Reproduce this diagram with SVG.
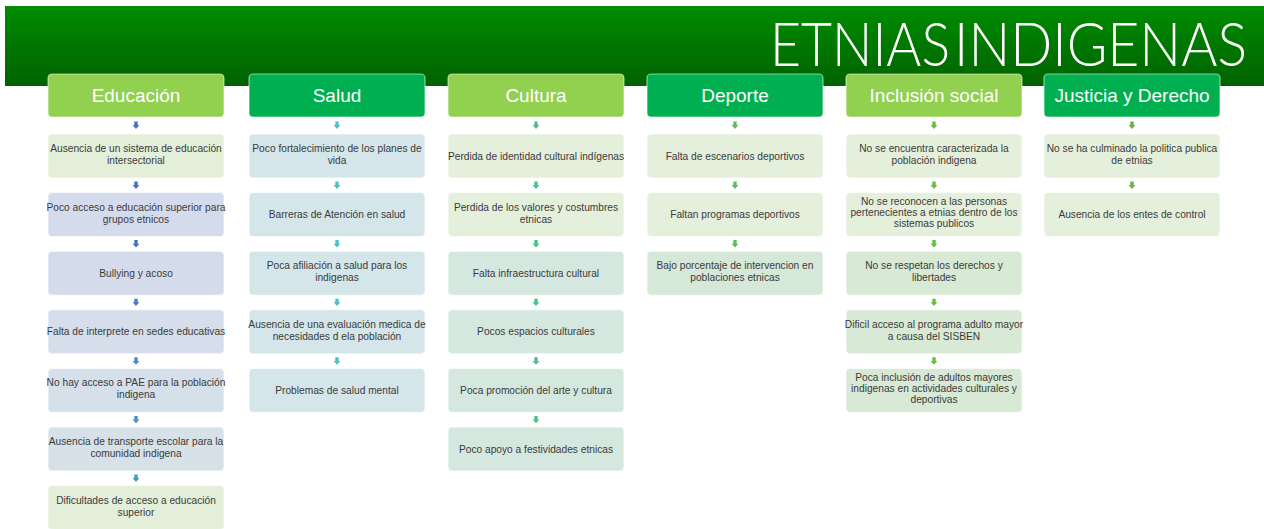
<svg xmlns="http://www.w3.org/2000/svg" xmlns:xlink="http://www.w3.org/1999/xlink" width="1264" height="529" viewBox="0 0 1264 529">
<defs>
<linearGradient id="bannerGrad" x1="0" y1="0" x2="0" y2="1">
<stop offset="0" stop-color="#008c00"/>
<stop offset="1" stop-color="#006200"/>
</linearGradient>
<path id="arr" d="M-1.7 0 h3.4 v3.6 h1.7 l-3.4 3.8 l-3.4 -3.8 h1.7 z"/>
</defs>
<style>
.title{font-family:"Lato","Liberation Sans",sans-serif;font-weight:300;font-size:53px;fill:#ffffff}
.hdr rect{stroke:#ffffff;stroke-opacity:0.55;stroke-width:1.2}
.hdr text{font-family:"Liberation Sans","Open Sans",sans-serif;font-size:19px;fill:#ffffff;text-anchor:middle}
.item rect{stroke:#ffffff;stroke-opacity:0.7;stroke-width:1}
.item text{font-family:"Liberation Sans","Open Sans",sans-serif;font-size:10.2px;fill:#3b3b3b;text-anchor:middle}
.lg{fill:#92d050}
.dg{fill:#00b050}
</style>
<rect width="1264" height="529" fill="#ffffff"/>
<g id="banner">
<rect x="5" y="6" width="1259" height="80" fill="url(#bannerGrad)"/>
<text class="title" transform="translate(770,66) scale(1,1.14)" x="0" y="0" textLength="180" lengthAdjust="spacingAndGlyphs">ETNIAS</text>
<text class="title" transform="translate(954,66) scale(1,1.14)" x="0" y="0" textLength="293" lengthAdjust="spacingAndGlyphs">INDIGENAS</text>
</g>

<g id="connectors">
<g fill="#4472c4">
<use xlink:href="#arr" x="136" y="121.5"/>
<use xlink:href="#arr" x="136" y="181.5"/>
<use xlink:href="#arr" x="136" y="240.1"/>
</g>
<use xlink:href="#arr" x="136" y="298.7" fill="#4680c4"/>
<use xlink:href="#arr" x="136" y="357.3" fill="#488cc2"/>
<use xlink:href="#arr" x="136" y="415.9" fill="#4a95bf"/>
<use xlink:href="#arr" x="136" y="474.5" fill="#4b9dbd"/>
<g fill="#4cc2c8">
<use xlink:href="#arr" x="337" y="121.5"/>
<use xlink:href="#arr" x="337" y="181.5"/>
<use xlink:href="#arr" x="337" y="240.1"/>
<use xlink:href="#arr" x="337" y="298.7"/>
<use xlink:href="#arr" x="337" y="357.3"/>
</g>
<g fill="#4cc08c">
<use xlink:href="#arr" x="536" y="121.5"/>
<use xlink:href="#arr" x="536" y="181.5"/>
<use xlink:href="#arr" x="536" y="240.1"/>
<use xlink:href="#arr" x="536" y="298.7"/>
<use xlink:href="#arr" x="536" y="357.3"/>
<use xlink:href="#arr" x="536" y="415.9"/>
</g>
<g fill="#5cbf58">
<use xlink:href="#arr" x="735" y="121.5"/>
<use xlink:href="#arr" x="735" y="181.5"/>
<use xlink:href="#arr" x="735" y="240.1"/>
</g>
<g fill="#66bf44">
<use xlink:href="#arr" x="934" y="121.5"/>
<use xlink:href="#arr" x="934" y="181.5"/>
<use xlink:href="#arr" x="934" y="240.1"/>
<use xlink:href="#arr" x="934" y="298.7"/>
<use xlink:href="#arr" x="934" y="357.3"/>
</g>
<g fill="#70b048">
<use xlink:href="#arr" x="1132" y="121.5"/>
<use xlink:href="#arr" x="1132" y="181.5"/>
</g>
</g>

<!-- Educación -->
<g id="educacion" class="hdr"><rect class="lg" x="48" y="74" width="176" height="43" rx="4"/><text x="136" y="102">Educación</text></g>
<g id="edu1" class="item"><rect x="48" y="134" width="176" height="44" rx="4" fill="#e3efd9"/><text x="136" y="152">Ausencia de un sistema de educación</text><text x="136" y="164">intersectorial</text></g>
<g id="edu2" class="item"><rect x="48" y="192.6" width="176" height="44" rx="4" fill="#d4dbed"/><text x="136" y="210.6">Poco acceso a educación superior para</text><text x="136" y="222.6">grupos etnicos</text></g>
<g id="edu3" class="item"><rect x="48" y="251.2" width="176" height="44" rx="4" fill="#d4dcec"/><text x="136" y="276.7">Bullying y acoso</text></g>
<g id="edu4" class="item"><rect x="48" y="309.8" width="176" height="44" rx="4" fill="#d5deea"/><text x="136" y="335.3">Falta de interprete en sedes educativas</text></g>
<g id="edu5" class="item"><rect x="48" y="368.4" width="176" height="44" rx="4" fill="#d5e0ea"/><text x="136" y="386.4">No hay acceso a PAE para la población</text><text x="136" y="398.4">indigena</text></g>
<g id="edu6" class="item"><rect x="48" y="427" width="176" height="44" rx="4" fill="#d6e2e8"/><text x="136" y="445">Ausencia de transporte escolar para la</text><text x="136" y="457">comunidad indigena</text></g>
<g id="edu7" class="item"><rect x="48" y="485.6" width="176" height="44" rx="4" fill="#e3efd9"/><text x="136" y="503.6">Dificultades de acceso a educación</text><text x="136" y="515.6">superior</text></g>

<!-- Salud -->
<g id="salud" class="hdr"><rect class="dg" x="249" y="74" width="176" height="43" rx="4"/><text x="337" y="102">Salud</text></g>
<g id="sal1" class="item"><rect x="249" y="134" width="176" height="44" rx="4" fill="#d4e6e9"/><text x="337" y="152">Poco fortalecimiento de los planes de</text><text x="337" y="164">vida</text></g>
<g id="sal2" class="item"><rect x="249" y="192.6" width="176" height="44" rx="4" fill="#d4e6e9"/><text x="337" y="218.1">Barreras de Atención en salud</text></g>
<g id="sal3" class="item"><rect x="249" y="251.2" width="176" height="44" rx="4" fill="#d4e6e9"/><text x="337" y="269.2">Poca afiliación a salud para los</text><text x="337" y="281.2">indigenas</text></g>
<g id="sal4" class="item"><rect x="249" y="309.8" width="176" height="44" rx="4" fill="#d4e6e9"/><text x="337" y="327.8">Ausencia de una evaluación medica de</text><text x="337" y="339.8">necesidades d ela población</text></g>
<g id="sal5" class="item"><rect x="249" y="368.4" width="176" height="44" rx="4" fill="#d4e6e9"/><text x="337" y="393.9">Problemas de salud mental</text></g>

<!-- Cultura -->
<g id="cultura" class="hdr"><rect class="lg" x="448" y="74" width="176" height="43" rx="4"/><text x="536" y="102">Cultura</text></g>
<g id="cul1" class="item"><rect x="448" y="134" width="176" height="44" rx="4" fill="#e4f0dc"/><text x="536" y="159.5">Perdida de identidad cultural indígenas</text></g>
<g id="cul2" class="item"><rect x="448" y="192.6" width="176" height="44" rx="4" fill="#e4f0dc"/><text x="536" y="210.6">Perdida de los valores y costumbres</text><text x="536" y="222.6">etnicas</text></g>
<g id="cul3" class="item"><rect x="448" y="251.2" width="176" height="44" rx="4" fill="#d5e8e0"/><text x="536" y="276.7">Falta infraestructura cultural</text></g>
<g id="cul4" class="item"><rect x="448" y="309.8" width="176" height="44" rx="4" fill="#d5e8e0"/><text x="536" y="335.3">Pocos espacios culturales</text></g>
<g id="cul5" class="item"><rect x="448" y="368.4" width="176" height="44" rx="4" fill="#d5e8e0"/><text x="536" y="393.9">Poca promoción del arte y cultura</text></g>
<g id="cul6" class="item"><rect x="448" y="427" width="176" height="44" rx="4" fill="#d5e8e0"/><text x="536" y="452.5">Poco apoyo a festividades etnicas</text></g>

<!-- Deporte -->
<g id="deporte" class="hdr"><rect class="dg" x="647" y="74" width="176" height="43" rx="4"/><text x="735" y="102">Deporte</text></g>
<g id="dep1" class="item"><rect x="647" y="134" width="176" height="44" rx="4" fill="#e4f0dc"/><text x="735" y="159.5">Falta de escenarios deportivos</text></g>
<g id="dep2" class="item"><rect x="647" y="192.6" width="176" height="44" rx="4" fill="#e4f0dc"/><text x="735" y="218.1">Faltan programas deportivos</text></g>
<g id="dep3" class="item"><rect x="647" y="251.2" width="176" height="44" rx="4" fill="#d6e8d8"/><text x="735" y="269.2">Bajo porcentaje de intervencion en</text><text x="735" y="281.2">poblaciones etnicas</text></g>

<!-- Inclusión social -->
<g id="inclusion" class="hdr"><rect class="lg" x="846" y="74" width="176" height="43" rx="4"/><text x="934" y="102">Inclusión social</text></g>
<g id="inc1" class="item"><rect x="846" y="134" width="176" height="44" rx="4" fill="#e4f0dc"/><text x="934" y="152">No se encuentra caracterizada la</text><text x="934" y="164">población indigena</text></g>
<g id="inc2" class="item"><rect x="846" y="192.6" width="176" height="44" rx="4" fill="#e4f0dc"/><text x="934" y="205.1">No se reconocen a las personas</text><text x="934" y="216.1">pertenecientes a etnias dentro de los</text><text x="934" y="227.1">sistemas publicos</text></g>
<g id="inc3" class="item"><rect x="846" y="251.2" width="176" height="44" rx="4" fill="#d8e9d5"/><text x="934" y="269.2">No se respetan los derechos y</text><text x="934" y="281.2">libertades</text></g>
<g id="inc4" class="item"><rect x="846" y="309.8" width="176" height="44" rx="4" fill="#d8e9d5"/><text x="934" y="327.8">Dificil acceso al programa adulto mayor</text><text x="934" y="339.8">a causa del SISBEN</text></g>
<g id="inc5" class="item"><rect x="846" y="368.4" width="176" height="44" rx="4" fill="#d8e9d5"/><text x="934" y="380.9">Poca inclusión de adultos mayores</text><text x="934" y="391.9">indigenas en actividades culturales y</text><text x="934" y="402.9">deportivas</text></g>

<!-- Justicia y Derecho -->
<g id="justicia" class="hdr"><rect class="dg" x="1044" y="74" width="176" height="43" rx="4"/><text x="1132" y="102">Justicia y Derecho</text></g>
<g id="jus1" class="item"><rect x="1044" y="134" width="176" height="44" rx="4" fill="#e4f0dc"/><text x="1132" y="152">No se ha culminado la politica publica</text><text x="1132" y="164">de etnias</text></g>
<g id="jus2" class="item"><rect x="1044" y="192.6" width="176" height="44" rx="4" fill="#e4f0dc"/><text x="1132" y="218.1">Ausencia de los entes de control</text></g>
</svg>
